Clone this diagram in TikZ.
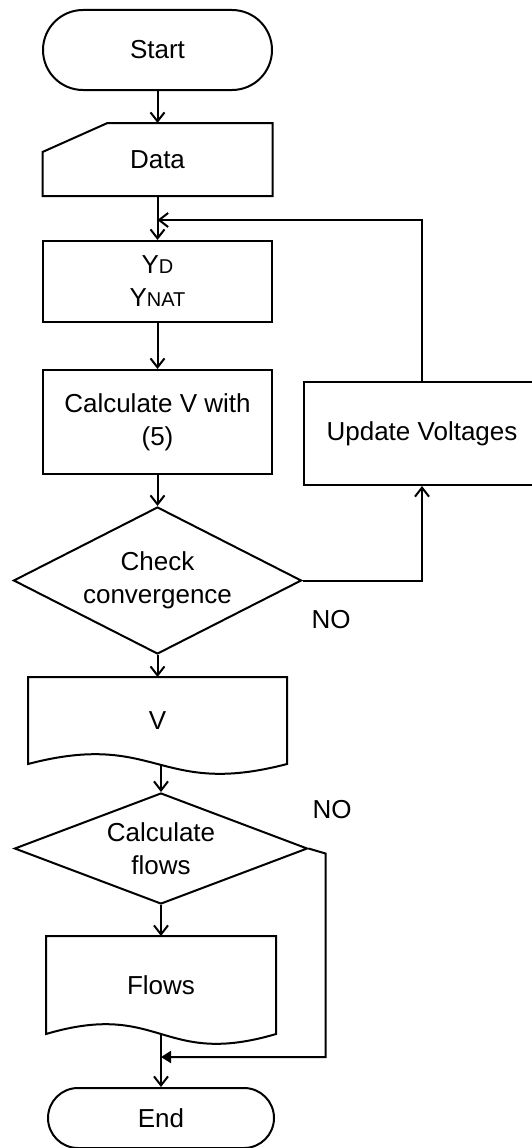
\documentclass[tikz,border=0pt]{standalone}
\usepackage{fontspec}
\setmainfont{Liberation Sans}
\usetikzlibrary{positioning, shapes.geometric, shapes.misc, arrows.meta}

\newcommand{\smallcap}[1]{{\fontsize{20}{24}\selectfont #1}}

\begin{document}
\begin{tikzpicture}[-,>={Straight Barb[length=9pt,width=14pt]},
                    line width=2pt,
                    every node/.style={font=\fontsize{26}{33}\selectfont,align=center,inner sep=0pt},
                    term node/.style={rounded rectangle,draw,minimum width=229pt,minimum height=80pt},
                    proc node/.style={rectangle,draw,minimum width=229pt,minimum height=81pt},
                    dec node/.style={diamond,draw,minimum width=288pt,minimum height=147pt,aspect=2},
                    doc node/.style={rectangle,minimum width=257pt,minimum height=85pt},
                    input node/.style={rectangle,minimum width=228pt,minimum height=71pt}]

 \useasboundingbox (0,0) rectangle (532pt,-1148pt);

 \node[term node] (start) at (157.5pt,-50pt) {Start};
 \node[input node, node distance=109.5pt, below of=start] (data) {Data};
 \node[proc node, node distance=122pt, below of=data] (ymat) {Y\smallcap{D}\\Y\smallcap{NAT}};
 \node[proc node, node distance=140.5pt, below of=ymat, minimum height=104pt] (calcv) {Calculate V with\\(5)};
 \node[dec node, node distance=158.5pt, below of=calcv] (conv) {Check\\convergence};
 \node[doc node, node distance=140pt, below of=conv] (vout) {V};
 \node[dec node, node distance=128pt, below of=vout, xshift=3.5pt,
       minimum width=293pt, minimum height=111pt, aspect=2.6] (flowcalc) {Calculate\\flows};
 \node[doc node, node distance=136.5pt, below of=flowcalc,
       minimum width=228pt, minimum height=96pt] (flows) {Flows};
 \node[term node, node distance=133pt, below of=flows,
       minimum width=226pt, minimum height=60pt] (end) {End};
 \node[proc node, node distance=264.5pt, right of=calcv, yshift=-11.5pt,
       minimum width=236pt, minimum height=103pt] (update) {Update Voltages};

 % outlines of the input and document shapes
 \draw ([yshift=-29pt]data.north west) -- ([xshift=65pt]data.north west)
       -- (data.north east) -- (data.south east) -- (data.south west) -- cycle;
 \draw (vout.south west) .. controls ([yshift=34pt]vout.south) and ([yshift=-34pt]vout.south) .. (vout.south east)
       -- (vout.north east) -- (vout.north west) -- cycle;
 \draw (flows.south west) .. controls ([yshift=34pt]flows.south) and ([yshift=-34pt]flows.south) .. (flows.south east)
       -- (flows.north east) -- (flows.north west) -- cycle;

 \node[anchor=west] (no1) at ([xshift=8pt,yshift=-39pt]conv.east) {NO};
 \node[anchor=west] (no2) at ([xshift=3pt,yshift=39pt]flowcalc.east) {NO};

 \coordinate[node distance=60.5pt, below of=data] (loopin);
 \coordinate (jog) at ([xshift=17pt,yshift=-5pt]flowcalc.east);
 \coordinate[node distance=72pt, below of=flows] (loopout);

 \draw[->] (start) -- (data);
 \draw[->] (data) -- (ymat);
 \draw[->] (ymat) -- (calcv);
 \draw[->] (calcv) -- (conv);
 \draw[->] (conv) -- (vout);
 \draw[->] (conv.east) -| (update);
 \draw[->] (update) |- (loopin);
 \draw[->] (flowcalc.north |- vout.south) -- (flowcalc.north);
 \draw[->] (flowcalc) -- (flows);
 \draw[->] (flows.south) -- (end.north);
 \draw[-{Triangle[length=10pt,width=12pt]}] (flowcalc.east) -- (jog) |- (loopout);

\end{tikzpicture}
\end{document}
